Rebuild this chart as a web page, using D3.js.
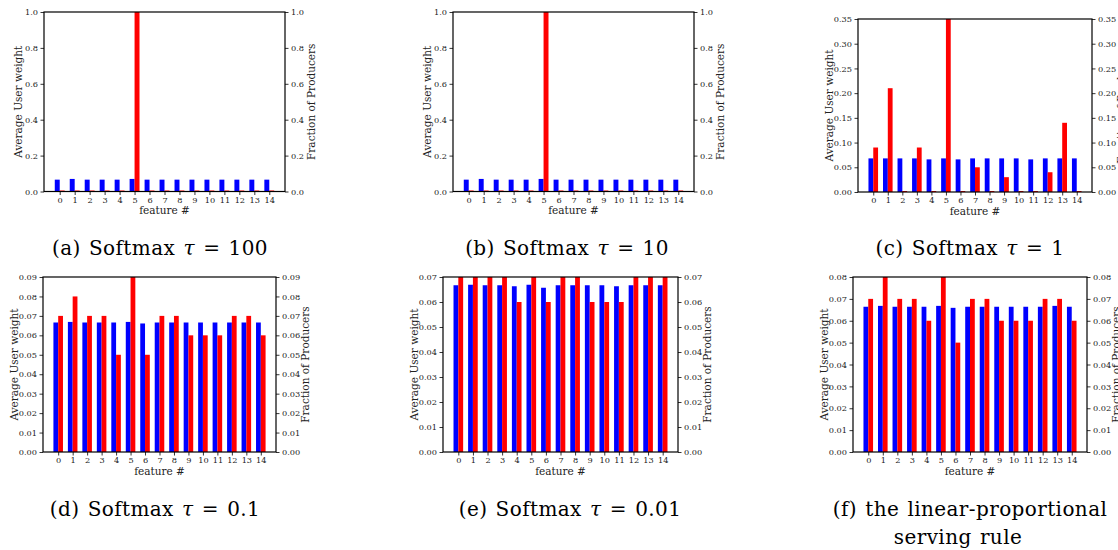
<!doctype html>
<html lang="en">
<head>
<meta charset="utf-8">
<title>feature weights vs producers</title>
<style>
html, body {
	margin: 0;
	padding: 0;
	background: #fff;
	overflow: hidden;
}
svg {
	display: block;
	background: #fff;
}
.tick text {
	font-family: 'DejaVu Serif', serif;
	font-size: 8.2px;
	fill: #222;
}
.tick line {
	stroke: #000;
	stroke-width: 0.8px;
}
.axlabel {
	font-family: 'DejaVu Serif', serif;
	font-size: 10.5px;
	fill: #222;
}
.caption {
	font-family: 'DejaVu Serif', serif;
	font-size: 20px;
	letter-spacing: 0.4px;
	word-spacing: 1.5px;
	fill: #000;
}
</style>
</head>
<body>
<div id="chart"></div>
<script src="https://cdnjs.cloudflare.com/ajax/libs/d3/7.8.5/d3.min.js"></script>
<script>
// data
var features = [0, 1, 2, 3, 4, 5, 6, 7, 8, 9, 10, 11, 12, 13, 14];

var userA = [0.066, 0.070, 0.066, 0.066, 0.066, 0.070, 0.066, 0.066, 0.066, 0.066, 0.066, 0.066, 0.066, 0.066, 0.066];
var prodA = [0, 0, 0, 0, 0, 1.0, 0, 0, 0, 0, 0, 0, 0, 0, 0];

var userB = [0.066, 0.070, 0.066, 0.066, 0.066, 0.070, 0.066, 0.066, 0.066, 0.066, 0.066, 0.066, 0.066, 0.066, 0.066];
var prodB = [0, 0, 0, 0, 0, 1.0, 0, 0, 0, 0, 0, 0, 0, 0, 0];

var userC = [0.068, 0.068, 0.068, 0.068, 0.066, 0.068, 0.066, 0.068, 0.068, 0.068, 0.068, 0.066, 0.068, 0.068, 0.068];
var prodC = [0.09, 0.21, 0, 0.09, 0, 0.35, 0, 0.05, 0, 0.03, 0, 0, 0.04, 0.14, 0];

var userD = [0.0666, 0.0669, 0.0666, 0.0666, 0.0666, 0.0669, 0.0661, 0.0666, 0.0666, 0.0666, 0.0666, 0.0666, 0.0666, 0.0666, 0.0666];
var prodD = [0.07, 0.08, 0.07, 0.07, 0.05, 0.09, 0.05, 0.07, 0.07, 0.06, 0.06, 0.06, 0.07, 0.07, 0.06];

var userE = [0.0667, 0.0669, 0.0667, 0.0667, 0.0663, 0.0669, 0.0657, 0.0667, 0.0667, 0.0667, 0.0667, 0.0663, 0.0667, 0.0667, 0.0667];
var prodE = [0.07, 0.07, 0.07, 0.07, 0.06, 0.07, 0.06, 0.07, 0.07, 0.06, 0.06, 0.06, 0.07, 0.07, 0.07];

var userF = [0.0664, 0.0668, 0.0664, 0.0664, 0.0664, 0.0668, 0.0659, 0.0664, 0.0664, 0.0664, 0.0664, 0.0664, 0.0664, 0.0668, 0.0664];
var prodF = [0.07, 0.08, 0.07, 0.07, 0.06, 0.08, 0.05, 0.07, 0.07, 0.06, 0.06, 0.06, 0.07, 0.07, 0.06];

var ticks1 = [0, 0.2, 0.4, 0.6, 0.8, 1.0];
var ticks35 = [0, 0.05, 0.10, 0.15, 0.20, 0.25, 0.30, 0.35];
var ticks09 = [0, 0.01, 0.02, 0.03, 0.04, 0.05, 0.06, 0.07, 0.08, 0.09];
var ticks07 = [0, 0.01, 0.02, 0.03, 0.04, 0.05, 0.06, 0.07];
var ticks08 = [0, 0.01, 0.02, 0.03, 0.04, 0.05, 0.06, 0.07, 0.08];

var captions = [
	['(a) Softmax ', '\u03c4', ' = 100'],
	['(b) Softmax ', '\u03c4', ' = 10'],
	['(c) Softmax ', '\u03c4', ' = 1'],
	['(d) Softmax ', '\u03c4', ' = 0.1'],
	['(e) Softmax ', '\u03c4', ' = 0.01'],
	['(f) the linear-proportional', 'serving rule']
];

var userLabel = 'Average User weight';
var prodLabel = 'Fraction of Producers';
var xLabel = 'feature #';

// layout of the six panels (axes boxes in px)
var panels = [
	{ user: userA, prod: prodA, ticks: ticks1, fmt: '.1f', box: [44, 12, 285, 191.5], cap: [160, 255] },
	{ user: userB, prod: prodB, ticks: ticks1, fmt: '.1f', box: [453, 12, 694, 191.5], cap: [567, 255] },
	{ user: userC, prod: prodC, ticks: ticks35, fmt: '.2f', box: [858, 19, 1092, 192], cap: [970, 255] },
	{ user: userD, prod: prodD, ticks: ticks09, fmt: '.2f', box: [43, 277, 276, 452], cap: [155, 516] },
	{ user: userE, prod: prodE, ticks: ticks07, fmt: '.2f', box: [443, 277, 678, 452], cap: [570, 516] },
	{ user: userF, prod: prodF, ticks: ticks08, fmt: '.2f', box: [853, 277, 1087, 452], cap: [970, 516] }
];

var W = 1118, H = 550;
var BAR = 0.33;

var svg = d3.select('#chart').append('svg')
	.attr('width', W)
	.attr('height', H);

var drawPanel = function (p, i) {
	var b = p.box;
	var x = d3.scaleLinear().domain([-1.05, 15.05]).range([b[0], b[2]]);
	var ymax = p.ticks[p.ticks.length - 1];
	var y = d3.scaleLinear().domain([0, ymax]).range([b[3], b[1]]);
	var g = svg.append('g');

	var clipId = 'clip' + i;
	g.append('clipPath').attr('id', clipId)
		.append('rect')
		.attr('x', b[0]).attr('y', b[1])
		.attr('width', b[2] - b[0]).attr('height', b[3] - b[1]);

	var bars = g.append('g').attr('clip-path', 'url(#' + clipId + ')');

	bars.selectAll('rect.user').data(p.user).enter()
		.append('rect')
		.attr('x', function (d, k) { return x(features[k] - BAR); })
		.attr('width', function (d, k) { return x(features[k]) - x(features[k] - BAR); })
		.attr('y', function (d) { return y(d); })
		.attr('height', function (d) { return y(0) - y(d); })
		.attr('fill', '#0000ff');

	// zero-height bars still leave a thin red edge in the original
	bars.selectAll('rect.prod').data(p.prod).enter()
		.append('rect')
		.attr('x', function (d, k) { return x(features[k]); })
		.attr('width', function (d, k) { return x(features[k] + BAR) - x(features[k]); })
		.attr('y', function (d) { return Math.min(y(d), y(0) - 1); })
		.attr('height', function (d) { return Math.max(y(0) - y(d), 1); })
		.attr('fill', '#ff0000');

	var fmt = d3.format(p.fmt);

	g.append('g')
		.attr('transform', 'translate(' + b[0] + ',0)')
		.call(d3.axisLeft(y).tickValues(p.ticks).tickFormat(fmt).tickSize(3.5).tickPadding(2.5))
		.call(function (s) { s.select('.domain').remove(); });

	g.append('g')
		.attr('transform', 'translate(' + b[2] + ',0)')
		.call(d3.axisRight(y).tickValues(p.ticks).tickFormat(fmt).tickSize(3.5).tickPadding(2.5))
		.call(function (s) { s.select('.domain').remove(); });

	g.append('g')
		.attr('transform', 'translate(0,' + b[3] + ')')
		.call(d3.axisBottom(x).tickValues(features).tickFormat(d3.format('d')).tickSize(3.5).tickPadding(2))
		.call(function (s) { s.select('.domain').remove(); });

	// spines
	g.append('rect')
		.attr('x', b[0]).attr('y', b[1])
		.attr('width', b[2] - b[0]).attr('height', b[3] - b[1])
		.attr('fill', 'none')
		.attr('stroke', '#000')
		.attr('stroke-width', 1.2);

	var off = p.fmt === '.1f' ? 26 : 29;
	var cy = (b[1] + b[3]) / 2;

	g.append('text').attr('class', 'axlabel')
		.attr('transform', 'translate(' + (b[0] - off) + ',' + cy + ') rotate(-90)')
		.attr('text-anchor', 'middle')
		.attr('dy', '0.35em')
		.text(userLabel);

	g.append('text').attr('class', 'axlabel')
		.attr('transform', 'translate(' + (b[2] + off) + ',' + cy + ') rotate(-90)')
		.attr('text-anchor', 'middle')
		.attr('dy', '0.35em')
		.text(prodLabel);

	g.append('text').attr('class', 'axlabel')
		.attr('x', (b[0] + b[2]) / 2)
		.attr('y', b[3] + 22.5)
		.attr('text-anchor', 'middle')
		.text(xLabel);

	// caption
	var c = captions[i];
	var t = g.append('text').attr('class', 'caption')
		.attr('x', p.cap[0])
		.attr('y', p.cap[1])
		.attr('text-anchor', 'middle');
	if (c.length === 3) {
		t.append('tspan').text(c[0]);
		t.append('tspan').attr('font-style', 'italic').text(c[1]);
		t.append('tspan').text(c[2]);
	} else {
		t.text(c[0]);
		g.append('text').attr('class', 'caption')
			.attr('x', p.cap[0] - 12)
			.attr('y', p.cap[1] + 28)
			.attr('text-anchor', 'middle')
			.text(c[1]);
	}
};

panels.forEach(drawPanel);
</script>
</body>
</html>
